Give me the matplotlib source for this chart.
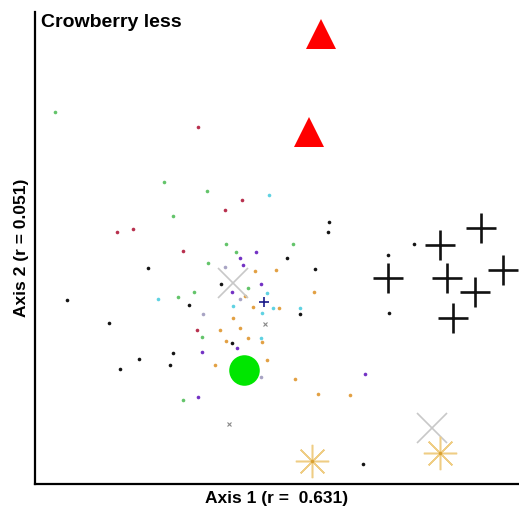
import matplotlib
matplotlib.use("Agg")
import matplotlib.pyplot as plt

plt.rcParams["font.family"] = ["Liberation Sans", "DejaVu Sans"]

# ordination scores (plot units)
green_x = [55, 164, 207, 173, 226, 236, 208, 194, 178, 293, 248, 202, 183]
green_y = [402, 332, 323, 298, 270, 262, 251, 222, 217, 270, 226, 177, 114]
red_x = [198, 225, 117, 133, 183, 242, 197]
red_y = [387, 304, 282, 285, 263, 314, 184]
black_x = [148, 221, 329, 328, 287, 315, 189, 300, 232, 173, 170, 109, 139,
           120, 363, 67, 414, 388, 389]
black_y = [246, 230, 292, 282, 256, 245, 209, 200, 171, 161, 149, 191, 155,
           145, 50, 214, 270, 259, 201]
purple_x = [232, 256, 240, 243, 261, 237, 202, 365, 198]
purple_y = [222, 262, 256, 249, 230, 166, 162, 140, 117]
cyan_x = [158, 269, 267, 233, 273, 300, 261, 262]
cyan_y = [215, 319, 221, 208, 206, 206, 176, 201]
orange_x = [255, 276, 245, 314, 253, 279, 233, 220, 226, 248, 262, 215, 267,
            295, 318, 350, 240]
orange_y = [243, 244, 218, 222, 207, 206, 196, 184, 173, 176, 172, 149, 154,
            135, 120, 119, 186]
lav_x = [225, 240, 203, 261]
lav_y = [247, 215, 200, 137]

# group centroids / larger symbols
tri_x = [321, 309]
tri_y = [480, 382]
plus_x = [481, 440, 388, 447, 503, 475, 453]
plus_y = [286, 269, 236, 236, 244, 222, 196]
cross_x = [233, 432]
cross_y = [231, 86]
star_x = [312, 440]
star_y = [53, 61]
circ_x = [244]
circ_y = [144]
blue_x = [264]
blue_y = [212]
smallx_x = [265, 229]
smallx_y = [190, 90]

fig = plt.figure(figsize=(5.19, 5.14), dpi=100)
ax = fig.add_axes([35 / 519, 30 / 514, 483 / 519, 472 / 514])

dot = dict(linestyle="none", marker="o", markersize=2.6, markeredgewidth=0)
ax.plot(green_x, green_y, color="#63c46a", **dot)
ax.plot(red_x, red_y, color="#b8304e", **dot)
ax.plot(black_x, black_y, color="#141414", **dot)
ax.plot(purple_x, purple_y, color="#7332c4", **dot)
ax.plot(cyan_x, cyan_y, color="#5fd2e2", **dot)
ax.plot(orange_x, orange_y, color="#e2a043", **dot)
ax.plot(lav_x, lav_y, color="#a8a4c4", **dot)

ax.plot(tri_x, tri_y, linestyle="none", marker="^", markersize=22,
        color="#ff0000", markeredgewidth=0)
ax.plot(plus_x, plus_y, linestyle="none", marker="+", markersize=22,
        color="#111111", markeredgewidth=1.9)
ax.plot(cross_x, cross_y, linestyle="none", marker="x", markersize=22,
        color="#c8c8c8", markeredgewidth=1.2)
ax.plot(star_x, star_y, linestyle="none", marker=(8, 2, 0), markersize=24,
        color="#efcd84", markeredgewidth=1.1)
ax.plot(star_x, star_y, linestyle="none", marker="o", markersize=2.5,
        color="#d9a030", markeredgewidth=0)
ax.plot(circ_x, circ_y, linestyle="none", marker="o", markersize=22,
        color="#00e600", markeredgewidth=0)
ax.plot(blue_x, blue_y, linestyle="none", marker="+", markersize=7,
        color="#1a1a8a", markeredgewidth=1.2)
ax.plot(smallx_x, smallx_y, linestyle="none", marker="x", markersize=2.5,
        color="#888888", markeredgewidth=0.8)

ax.set_xlim(35, 518)
ax.set_ylim(30, 502)
ax.set_xticks([])
ax.set_yticks([])
ax.spines["top"].set_visible(False)
ax.spines["right"].set_visible(False)
ax.spines["left"].set_linewidth(1.6)
ax.spines["bottom"].set_linewidth(1.6)

ax.text(0.012, 0.995, "Crowberry less", transform=ax.transAxes,
        fontsize=14, fontweight="bold", va="top", ha="left")
ax.set_xlabel("Axis 1 (r =  0.631)", fontsize=12.5, fontweight="bold",
              labelpad=5)
ax.set_ylabel("Axis 2 (r = 0.051)", fontsize=12.5, fontweight="bold",
              labelpad=4)

fig.savefig("out.png", dpi=100)
